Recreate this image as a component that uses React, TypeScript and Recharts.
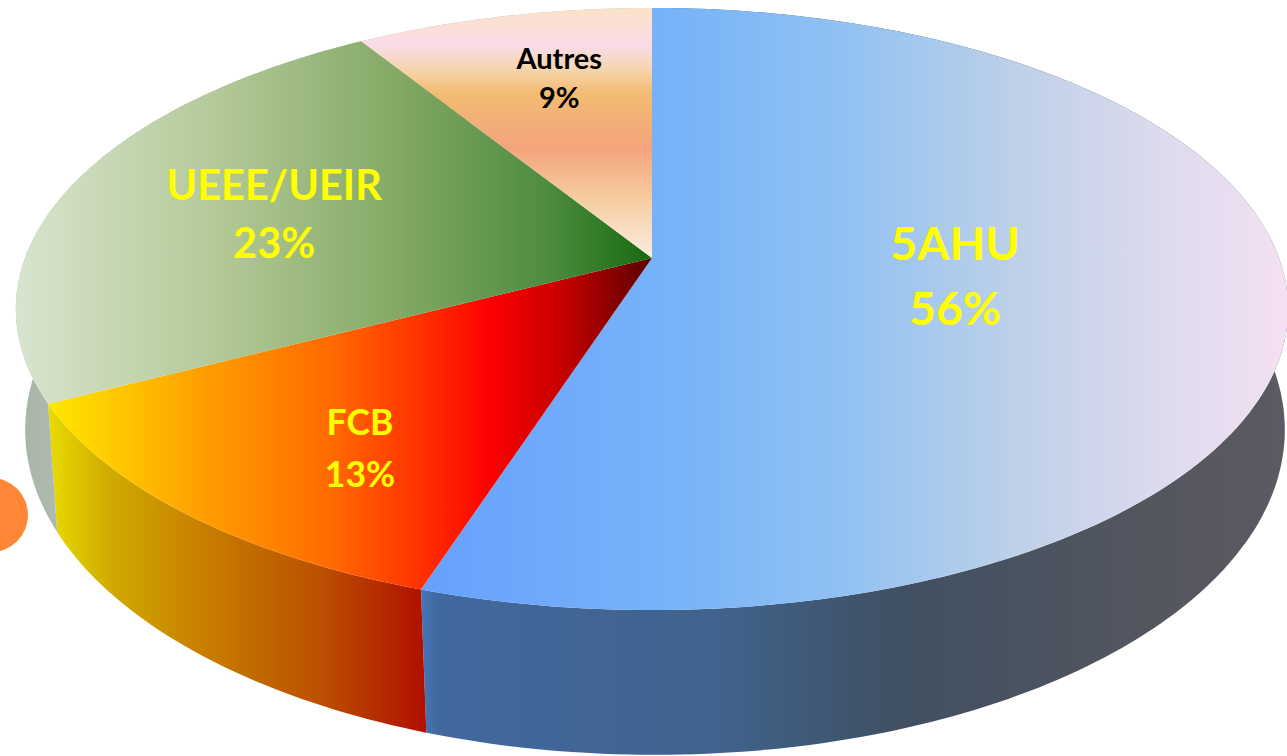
import React from "react";
import { PieChart, Pie } from "recharts";

const names = ["5AHU", "FCB", "UEEE/UEIR", "Autres"];
const sliceShares = [55, 12.4, 23.7, 8.9];
const percentLabels = ["56%", "13%", "23%", "9%"];
const data = names.map((name, i) => ({ name, value: sliceShares[i] }));

const W = 1287, H = 756, CX = 652, CY = 258, R = 250;
const A = 627, B = 292.4, K = 0.1694;

type Stop = [number, string];
const topStops: Stop[][] = [
  [[0, "#66A0FF"], [0.3, "#78B4F8"], [0.5, "#93C2F2"], [0.68, "#BCD0E8"], [0.85, "#DCDAEE"], [1, "#F4E0F2"]],
  [[0, "#FFE800"], [0.1, "#FFCC00"], [0.25, "#FFA000"], [0.47, "#FF6A00"], [0.68, "#FF1800"], [0.73, "#FF0000"], [0.85, "#C80000"], [1, "#5A0000"]],
  [[0, "#D8E4CF"], [0.3, "#B6CB9B"], [0.6, "#84A965"], [0.83, "#4F8D42"], [1, "#186A10"]],
  [[0, "#FBE2C8"], [0.15, "#F9DCE8"], [0.24, "#F6D6B0"], [0.34, "#F3BC72"], [0.56, "#F3A47C"], [0.78, "#F6CFA4"], [1, "#FAEDE0"]],
];
const topBands = [[420, 1287], [48, 652], [15, 652]];
const wallStops: Stop[][] = [
  [[0, "#4578BE"], [0.02, "#41699F"], [0.35, "#40628C"], [0.55, "#3F5062"], [0.85, "#54565F"], [1, "#5C5A62"]],
  [[0, "#E8DC00"], [0.16, "#D0AC00"], [0.4, "#C88000"], [0.72, "#BB5000"], [1, "#B01000"]],
  [[0, "#A8B4A8"], [1, "#B0BAB0"]],
  [[0, "#A8B4A8"], [1, "#B0BAB0"]],
];
const wallBands = [[420, 1287], [48, 425], [15, 60], [15, 60]];

const labelStyle = [
  { f: 0.48, dx: 2, dy: -4.5, size: 46.5, gap: 65, color: "#FFFF00" },
  { f: 0.72, dx: 30, dy: 14, size: 35.5, gap: 52, color: "#FFFF00" },
  { f: 0.62, dx: -13, dy: 3, size: 41.5, gap: 58, color: "#FFFF00" },
  { f: 0.78, dx: 27, dy: 15, size: 29, gap: 39, color: "#000000" },
];

const project = (angle: number, frac: number, cx: number, cy: number) => {
  const t = ((90 - angle) * Math.PI) / 180;
  const u = frac * Math.sin(t);
  const v = frac * Math.cos(t);
  const w = 1 + K * v;
  return [cx + (A * u) / w, cy - (B * v) / w];
};
const lower = ([x, y]: number[], cx: number) => [cx + 3 + (x - cx) * 0.99, y * 1.08 + 96];

const arc = (a: number, b: number, cx: number, cy: number) => {
  const n = Math.max(2, Math.ceil(Math.abs(a - b)));
  return Array.from({ length: n + 1 }, (_, i) => project(a + ((b - a) * i) / n, 1, cx, cy));
};
const d = (pts: number[][]) => pts.map((p, i) => `${i ? "L" : "M"}${p[0].toFixed(1)} ${p[1].toFixed(1)}`).join("") + "Z";

const idx = (p: any) => names.indexOf(p.name ?? p.payload?.name);

const TopFace = (p: any) => {
  const pts = arc(p.startAngle, p.endAngle, p.cx, p.cy);
  return <path d={d([[p.cx, p.cy], ...pts])} fill={`url(#top${idx(p)})`} stroke="none" />;
};
const WallFace = (p: any) => {
  const pts = arc(p.startAngle, p.endAngle, p.cx, p.cy);
  const low = pts.map((q) => lower(q, p.cx)).reverse();
  return <path d={d([...pts, ...low])} fill={`url(#wall${idx(p)})`} stroke="none" />;
};

const renderLabel = (p: any) => {
  const i = idx(p);
  const s = labelStyle[i];
  const [x, y] = project(p.midAngle, s.f, p.cx, p.cy);
  return (
    <text
      key={i}
      x={x + s.dx}
      y={y + s.dy}
      textAnchor="middle"
      fontFamily="Lato, 'Open Sans', sans-serif"
      fontWeight={700}
      fontSize={s.size}
      fill={s.color}
    >
      <tspan x={x + s.dx} dy={-s.gap / 2 + s.size * 0.35}>{names[i]}</tspan>
      <tspan x={x + s.dx} dy={s.gap}>{percentLabels[i]}</tspan>
    </text>
  );
};

const grad = (id: string, stops: Stop[], band: number[] | null) =>
  band ? (
    <linearGradient key={id} id={id} gradientUnits="userSpaceOnUse" x1={band[0]} x2={band[1]} y1={0} y2={0}>
      {stops.map(([o, c], i) => <stop key={i} offset={o} stopColor={c} />)}
    </linearGradient>
  ) : (
    <linearGradient key={id} id={id} gradientUnits="userSpaceOnUse" x1={0} x2={0} y1={8} y2={258}>
      {stops.map(([o, c], i) => <stop key={i} offset={o} stopColor={c} />)}
    </linearGradient>
  );

export default function App() {
  return (
    <div style={{ position: "absolute", left: 0, top: 0, width: W, height: H, overflow: "hidden", background: "#fff" }}>
      <div style={{ position: "absolute", left: -46, top: 478, width: 74, height: 74, borderRadius: "50%", background: "#FE8637" }} />
      <div style={{ position: "absolute", left: 0, top: 0 }}>
        <PieChart width={W} height={H} margin={{ top: 0, right: 0, bottom: 0, left: 0 }}>
          <defs>
            {topStops.map((s, i) => grad(`top${i}`, s, topBands[i] ?? null))}
            {wallStops.map((s, i) => grad(`wall${i}`, s, wallBands[i]))}
          </defs>
          <Pie
            data={data}
            dataKey="value"
            nameKey="name"
            cx={CX}
            cy={CY}
            outerRadius={R}
            startAngle={90}
            endAngle={-270}
            stroke="none"
            shape={WallFace}
            isAnimationActive={false}
          />
          <Pie
            data={data}
            dataKey="value"
            nameKey="name"
            cx={CX}
            cy={CY}
            outerRadius={R}
            startAngle={90}
            endAngle={-270}
            stroke="none"
            shape={TopFace}
            label={renderLabel}
            labelLine={false}
            isAnimationActive={false}
          />
        </PieChart>
      </div>
    </div>
  );
}
